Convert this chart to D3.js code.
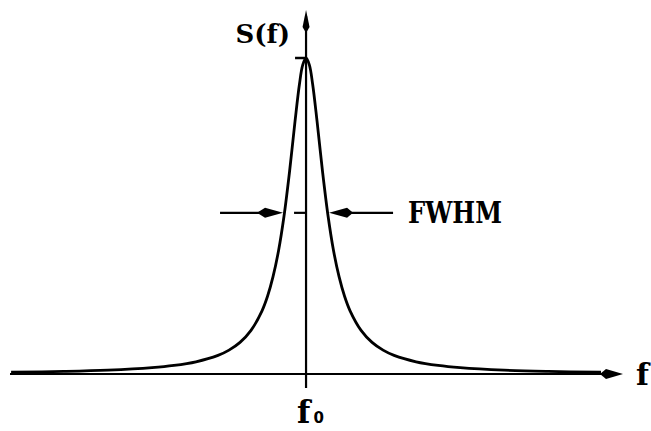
<!DOCTYPE html>
<html>
<head>
<meta charset="utf-8">
<script src="https://cdn.jsdelivr.net/npm/d3@7"></script>
<style>
  html, body { margin: 0; padding: 0; background: #fff; }
  svg { display: block; }
</style>
</head>
<body>
<svg id="chart" width="651" height="431"></svg>
<script>
// Frequency offsets (in units of the half width) and spectral density (normalised to peak)
const freqOffsets = [-13.4, -11, -9, -7, -6, -5, -4, -3.5, -3, -2.5, -2, -1.75, -1.5, -1.25, -1, -0.75, -0.5, -0.3, -0.15, 0,
                     0.15, 0.3, 0.5, 0.75, 1, 1.25, 1.5, 1.75, 2, 2.5, 3, 3.5, 4, 5, 6, 7, 9, 11, 13.4];
const spectrum = [0.0055, 0.0082, 0.0122, 0.02, 0.027, 0.0385, 0.0588, 0.0755, 0.1, 0.138, 0.2, 0.246, 0.308, 0.39, 0.5, 0.64, 0.8, 0.917, 0.978, 1,
                  0.978, 0.917, 0.8, 0.64, 0.5, 0.39, 0.308, 0.246, 0.2, 0.138, 0.1, 0.0755, 0.0588, 0.0385, 0.027, 0.02, 0.0122, 0.0082, 0.0055];
const fwhmEdges = [-1, 1];
const fwhmLevel = [0.51];
const peakLevel = [1];
const axisLabels = ["S(f)", "f", "FWHM"];
const centreLabel = ["f", "0"];

const svg = d3.select("#chart");
const x = d3.scaleLinear().domain([-13.45, 14.4]).range([10, 623]);
const y = d3.scaleLinear().domain([0, 1]).range([374, 58]);
const yTop = 1.152;
const x0 = x(0), yb = y(0);

// horizontal axis
svg.append("line").attr("x1", x.range()[0]).attr("x2", x.range()[1] - 6)
  .attr("y1", yb).attr("y2", yb).attr("stroke", "#000").attr("stroke-width", 2.2);
const tx = x.range()[1];
svg.append("path")
  .attr("d", `M${tx},${yb} L${tx - 17},${yb - 5} L${tx - 23},${yb} L${tx - 17},${yb + 5} Z`)
  .attr("fill", "#000");

// vertical axis
const ty = y(yTop);
svg.append("line").attr("x1", x0).attr("x2", x0)
  .attr("y1", ty + 6).attr("y2", yb + 14).attr("stroke", "#000").attr("stroke-width", 2.2);
svg.append("path")
  .attr("d", `M${x0},${ty} L${x0 - 3.5},${ty + 17} L${x0},${ty + 23} L${x0 + 3.5},${ty + 17} Z`)
  .attr("fill", "#000");

// peak tick
svg.append("line").attr("x1", x0 - 11).attr("x2", x0)
  .attr("y1", y(peakLevel[0])).attr("y2", y(peakLevel[0])).attr("stroke", "#000").attr("stroke-width", 2.5);

// curve
const line = d3.line().x((d, i) => x(freqOffsets[i])).y(d => y(d)).curve(d3.curveCatmullRom.alpha(0.5));
svg.append("path").datum(spectrum).attr("d", line)
  .attr("fill", "none").attr("stroke", "#000").attr("stroke-width", 2.8).attr("stroke-linejoin", "round");

// FWHM markers
const fy = y(fwhmLevel[0]);
svg.append("line").attr("x1", x0 - 12).attr("x2", x0).attr("y1", fy).attr("y2", fy)
  .attr("stroke", "#000").attr("stroke-width", 2.2);
const lt = x(fwhmEdges[0]) - 1;
svg.append("line").attr("x1", lt - 63).attr("x2", lt - 20).attr("y1", fy).attr("y2", fy)
  .attr("stroke", "#000").attr("stroke-width", 2.2);
svg.append("path")
  .attr("d", `M${lt},${fy} L${lt - 18},${fy - 5} L${lt - 26},${fy} L${lt - 18},${fy + 5} Z`).attr("fill", "#000");
const rt = x(fwhmEdges[1]) + 1;
svg.append("line").attr("x1", rt + 20).attr("x2", rt + 64).attr("y1", fy).attr("y2", fy)
  .attr("stroke", "#000").attr("stroke-width", 2.2);
svg.append("path")
  .attr("d", `M${rt},${fy} L${rt + 18},${fy - 5} L${rt + 24},${fy} L${rt + 18},${fy + 5} Z`).attr("fill", "#000");

// labels
const serif = "'DejaVu Serif', 'Liberation Serif', serif";
svg.append("text").attr("x", x0 - 16).attr("y", 43).attr("text-anchor", "end")
  .attr("font-family", serif).attr("font-weight", "bold").attr("font-size", 26)
  .text(axisLabels[0]);
svg.append("text").attr("x", 636).attr("y", 385)
  .attr("font-family", serif).attr("font-weight", "bold").attr("font-size", 30)
  .text(axisLabels[1]);
svg.append("text").attr("x", 408).attr("y", 223)
  .attr("font-family", serif).attr("font-weight", "bold").attr("font-size", 29)
  .attr("textLength", 94).attr("lengthAdjust", "spacingAndGlyphs")
  .text(axisLabels[2]);
const c = svg.append("text").attr("x", x0 - 9).attr("y", 423)
  .attr("font-family", serif).attr("font-weight", "bold").attr("font-size", 31);
c.append("tspan").text(centreLabel[0]);
c.append("tspan").attr("dx", 3).attr("font-family", "'DejaVu Sans', sans-serif").attr("font-size", 15).text(centreLabel[1]);
</script>
</body>
</html>
